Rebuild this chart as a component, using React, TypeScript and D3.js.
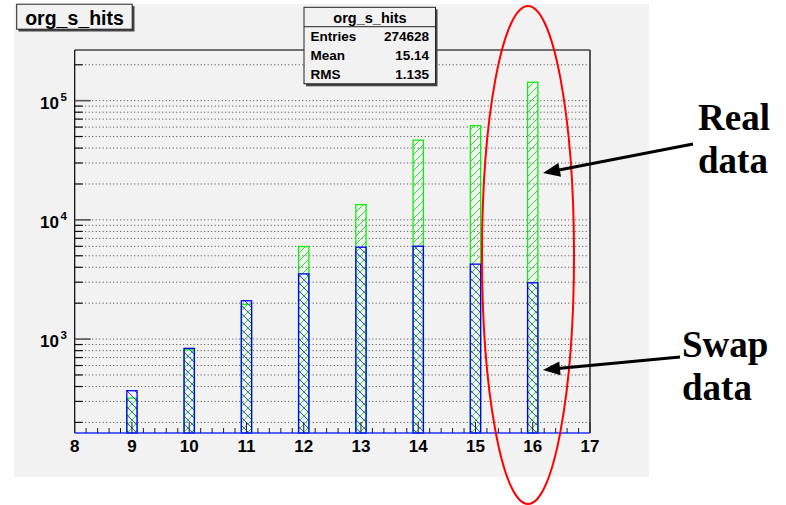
import React from "react";
import * as d3 from "d3";

// Histogram contents: bin centres and counts for the two overlaid samples
const bins = [9, 10, 11, 12, 13, 14, 15, 16];
const realCounts = [320, 813, 1954, 5975, 13430, 46600, 61700, 142700];
const swapCounts = [369, 836, 2096, 3524, 5900, 6010, 4253, 2966];

// Axis settings
const xMin = 8;
const xMax = 17;
const yMin = 163;
const yMax = 266000;
const yLabelExponents = [3, 4, 5];

// Stats box
const histName = "org_s_hits";
const statLabels = ["Entries", "Mean", "RMS"];
const statValues = ["274628", "15.14", "1.135"];

// Annotation labels
const realLabel = ["Real", "data"];
const swapLabel = ["Swap", "data"];

const W = 786;
const H = 505;
const frame = { left: 74.7, right: 590, top: 50, bottom: 433 };
const sans = "'Liberation Sans', Arial, Helvetica, sans-serif";
const serif = "'Liberation Serif', 'Times New Roman', serif";
const canvasFill = "#f2f2f2";

function Arrow({ x1, y1, x2, y2 }: { x1: number; y1: number; x2: number; y2: number }) {
  const dx = x2 - x1;
  const dy = y2 - y1;
  const len = Math.hypot(dx, dy);
  const ux = dx / len;
  const uy = dy / len;
  const headL = 17;
  const headW = 7;
  const bx = x2 - ux * headL;
  const by = y2 - uy * headL;
  const px = -uy * headW;
  const py = ux * headW;
  return (
    <g>
      <line x1={x1} y1={y1} x2={bx + ux * 2} y2={by + uy * 2} stroke="#000" strokeWidth={3} />
      <polygon points={`${x2},${y2} ${bx + px},${by + py} ${bx - px},${by - py}`} fill="#000" />
    </g>
  );
}

export default function App() {
  const x = d3.scaleLinear().domain([xMin, xMax]).range([frame.left, frame.right]);
  const y = d3.scaleLog().domain([yMin, yMax]).range([frame.bottom, frame.top]);
  const halfBar = 0.09;

  // log-axis ticks: every m * 10^k inside the range
  const yTicks: { v: number; major: boolean }[] = [];
  for (let k = 2; k <= 5; k++) {
    for (let m = 1; m <= 9; m++) {
      const v = m * Math.pow(10, k);
      if (v >= yMin && v <= yMax) yTicks.push({ v, major: m === 1 });
    }
  }
  const xMajor = d3.range(xMin, xMax + 0.001, 1);
  const xMinor = d3.range(xMin, xMax + 0.001, 0.2).filter((t) => Math.abs(t - Math.round(t)) > 0.01);

  const barRect = (c: number, v: number) => {
    const x0 = x(c - halfBar);
    const x1 = x(c + halfBar);
    return { x: x0, y: y(v), width: x1 - x0, height: frame.bottom - y(v) };
  };

  return (
    <svg
      width={W}
      height={H}
      style={{ position: "absolute", left: 0, top: 0, background: "#fff" }}
      fontFamily={sans}
    >
      <defs>
        <pattern id="hatchFwd" patternUnits="userSpaceOnUse" width={8} height={8}>
          <path d="M-2,2 L2,-2 M0,8 L8,0 M6,10 L10,6" stroke="#2fe02f" strokeWidth={1} />
        </pattern>
        <pattern id="hatchBack" patternUnits="userSpaceOnUse" width={8} height={8}>
          <path d="M-2,6 L2,10 M0,0 L8,8 M6,-2 L10,2" stroke="#3344ee" strokeWidth={1} />
        </pattern>
      </defs>

      {/* canvas */}
      <rect x={14} y={4} width={635} height={473} fill={canvasFill} />

      {/* grid lines */}
      {yTicks.map((t, i) => (
        <line
          key={"g" + i}
          x1={frame.left}
          x2={frame.right}
          y1={y(t.v)}
          y2={y(t.v)}
          stroke="#444"
          strokeWidth={1}
          strokeDasharray="1 2.5"
        />
      ))}

      {/* real-data bars */}
      {bins.map((b, i) => {
        const r = barRect(b, realCounts[i]);
        return (
          <rect key={"r" + i} {...r} fill="url(#hatchFwd)" stroke="#10ee10" strokeWidth={1.3} />
        );
      })}
      {/* swap-data bars */}
      {bins.map((b, i) => {
        const r = barRect(b, swapCounts[i]);
        return (
          <rect key={"s" + i} {...r} fill="url(#hatchBack)" stroke="#0000ff" strokeWidth={1.3} />
        );
      })}

      {/* frame */}
      <line x1={frame.left} x2={frame.right} y1={frame.top} y2={frame.top} stroke="#444" strokeWidth={1.3} />
      <line x1={frame.right} x2={frame.right} y1={frame.top} y2={frame.bottom} stroke="#555" strokeWidth={2} />
      <line x1={frame.left} x2={frame.left} y1={frame.top} y2={frame.bottom} stroke="#000" strokeWidth={1.2} />
      <line x1={frame.left} x2={frame.right} y1={frame.bottom} y2={frame.bottom} stroke="#2233ff" strokeWidth={1.6} />

      {/* y ticks */}
      {yTicks.map((t, i) => (
        <line
          key={"yt" + i}
          x1={frame.left}
          x2={frame.left + (t.major ? 16 : 8)}
          y1={y(t.v)}
          y2={y(t.v)}
          stroke={t.major ? "#555" : "#111"}
          strokeWidth={t.major ? 1.6 : 1.2}
        />
      ))}
      {/* y labels */}
      {yLabelExponents.map((e) => {
        const yy = y(Math.pow(10, e));
        return (
          <g key={"yl" + e} fontWeight="bold" fill="#000">
            <text x={59} y={yy + 8} fontSize={17} textAnchor="end">
              10
            </text>
            <text x={60.5} y={yy} fontSize={11.5}>
              {e}
            </text>
          </g>
        );
      })}

      {/* x ticks */}
      {xMinor.map((t, i) => (
        <line key={"xm" + i} x1={x(t)} x2={x(t)} y1={frame.bottom} y2={frame.bottom - 5} stroke="#222" strokeWidth={1} />
      ))}
      {xMajor.map((t, i) => (
        <line key={"xM" + i} x1={x(t)} x2={x(t)} y1={frame.bottom} y2={frame.bottom - 11} stroke="#222" strokeWidth={1} />
      ))}
      {xMajor.map((t, i) => (
        <text
          key={"xl" + i}
          x={x(t)}
          y={452}
          fontSize={17}
          fontWeight="bold"
          textAnchor="middle"
          fill="#000"
        >
          {t}
        </text>
      ))}

      {/* title box */}
      <rect x={18.5} y={6} width={116} height={25.5} fill="#444" />
      <rect x={16.7} y={4.2} width={115.5} height={25} fill={canvasFill} stroke="#222" strokeWidth={1} />
      <text x={74.5} y={24.5} fontSize={19.5} fontWeight="bold" textAnchor="middle" fill="#000">
        {histName}
      </text>

      {/* stats box */}
      <rect x={306} y={9.3} width={131.5} height={77} fill="#444" />
      <rect x={304} y={7.3} width={131.5} height={76.5} fill={canvasFill} stroke="#222" strokeWidth={1} />
      <line x1={304} x2={435.5} y1={26.7} y2={26.7} stroke="#222" strokeWidth={1} />
      <text x={370} y={23} fontSize={14.5} fontWeight="bold" textAnchor="middle" fill="#000">
        {histName}
      </text>
      {statLabels.map((lab, i) => (
        <g key={"st" + i} fontSize={13.5} fontWeight="bold" fill="#000">
          <text x={310.5} y={41 + i * 18.8}>
            {lab}
          </text>
          <text x={429} y={41 + i * 18.8} textAnchor="end">
            {statValues[i]}
          </text>
        </g>
      ))}

      {/* annotations */}
      <ellipse cx={528} cy={255} rx={46} ry={249} fill="none" stroke="#ff0000" strokeWidth={2} />
      <g fontFamily={serif} fontWeight="bold" fontSize={37} fill="#000">
        <text x={698} y={130}>{realLabel[0]}</text>
        <text x={698} y={173}>{realLabel[1]}</text>
        <text x={682} y={357}>{swapLabel[0]}</text>
        <text x={682} y={400}>{swapLabel[1]}</text>
      </g>
      <Arrow x1={693} y1={144} x2={543} y2={173} />
      <Arrow x1={680} y1={357} x2={543} y2={370} />
    </svg>
  );
}
